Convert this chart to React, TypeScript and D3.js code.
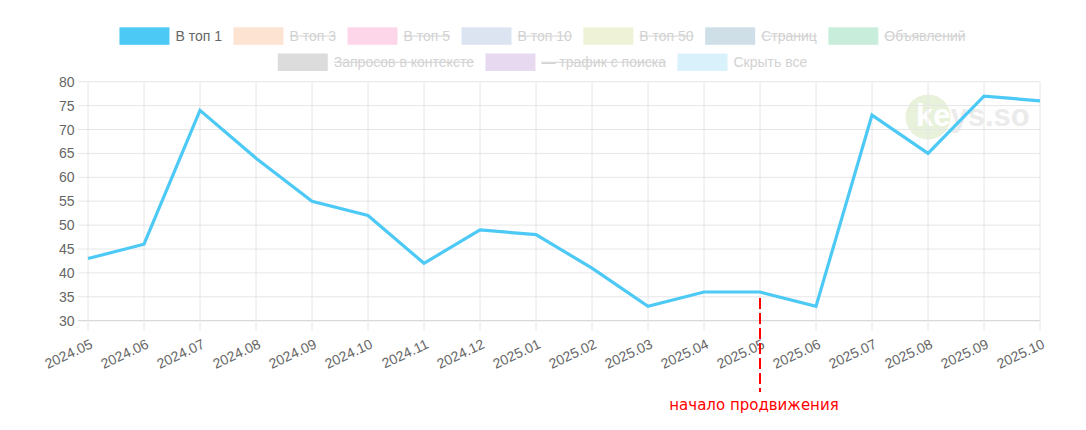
import React, { useEffect, useRef } from "react";
import * as d3 from "d3";

const months = [
  "2024.05", "2024.06", "2024.07", "2024.08", "2024.09", "2024.10",
  "2024.11", "2024.12", "2025.01", "2025.02", "2025.03", "2025.04",
  "2025.05", "2025.06", "2025.07", "2025.08", "2025.09", "2025.10",
];
const top1 = [43, 46, 74, 64, 55, 52, 42, 49, 48, 41, 33, 36, 36, 33, 73, 65, 77, 76];
const yTicks = [30, 35, 40, 45, 50, 55, 60, 65, 70, 75, 80];

const legendRow1 = ["В топ 1", "В топ 3", "В топ 5", "В топ 10", "В топ 50", "Страниц", "Объявлений"];
const legendRow1Colors = ["#4dc9f6", "#fde3d1", "#fdd6ea", "#dde4f1", "#eef3d8", "#cfdfe8", "#c9eddb"];
const legendRow1Hidden = [false, true, true, true, true, true, true];
const legendRow2 = ["Запросов в контексте", "— трафик с поиска", "Скрыть все"];
const legendRow2Colors = ["#dcdcdc", "#e6d9f0", "#d8f1fb"];
const legendRow2Strike = [true, true, false];

const markerMonth = "2025.05";
const markerLabel = "начало продвижения";

const W = 1086;
const H = 430;
const FONT = "'Liberation Sans', Arial, Helvetica, sans-serif";

export default function App() {
  const ref = useRef<SVGSVGElement | null>(null);

  useEffect(() => {
    document.body.style.margin = "0";
    const svg = d3.select(ref.current);
    svg.selectAll("*").remove();

    const x = d3.scalePoint<string>().domain(months).range([88, 1040]);
    const y = d3.scaleLinear().domain([30, 80]).range([320.7, 81.7]);

    const fs = 14;
    const canvas = document.createElement("canvas");
    const ctx = canvas.getContext("2d")!;
    ctx.font = `${fs}px ${FONT}`;

    // legend
    const boxW = 50, boxH = 17.5, pad = 10.5;
    const drawRow = (
      labels: string[], colors: string[], hiddenFlags: boolean[], strike: boolean[], top: number
    ) => {
      const widths = labels.map((l) => boxW + fs / 2 + ctx.measureText(l).width);
      const total = d3.sum(widths) + pad * (labels.length - 1);
      let cx = W / 2 - total / 2;
      labels.forEach((l, i) => {
        const g = svg.append("g");
        g.append("rect")
          .attr("x", cx).attr("y", top).attr("width", boxW).attr("height", boxH)
          .attr("fill", colors[i]);
        const tx = cx + boxW + fs / 2 - 1;
        const tw = ctx.measureText(l).width;
        g.append("text")
          .attr("x", tx).attr("y", top + boxH / 2 + 5)
          .attr("font-family", FONT).attr("font-size", fs)
          .attr("fill", hiddenFlags[i] ? "#d2d2d2" : "#666")
          .text(l);
        if (strike[i]) {
          g.append("line")
            .attr("x1", tx).attr("x2", tx + tw)
            .attr("y1", top + boxH / 2).attr("y2", top + boxH / 2)
            .attr("stroke", "#d2d2d2").attr("stroke-width", 1);
        }
        cx += widths[i] + pad;
      });
    };
    drawRow(legendRow1, legendRow1Colors, legendRow1Hidden, legendRow1Hidden, 27.3);
    drawRow(legendRow2, legendRow2Colors, [true, true, true], legendRow2Strike, 53.5);

    // watermark
    const wm = svg.append("g");
    wm.append("circle").attr("cx", 928).attr("cy", 117).attr("r", 22.5).attr("fill", "#e8f2da");
    wm.append("text")
      .attr("x", 916).attr("y", 126)
      .attr("font-family", FONT).attr("font-weight", "bold")
      .attr("font-size", 31).attr("fill", "#ebebeb")
      .text("keys.so");
    svg.append("clipPath").attr("id", "wmclip")
      .append("circle").attr("cx", 928).attr("cy", 117).attr("r", 22.5);
    wm.append("text")
      .attr("x", 916).attr("y", 126)
      .attr("clip-path", "url(#wmclip)")
      .attr("font-family", FONT).attr("font-weight", "bold")
      .attr("font-size", 31).attr("fill", "#ffffff")
      .text("keys.so");

    // grid
    const grid = svg.append("g");
    yTicks.forEach((t) => {
      grid.append("line")
        .attr("x1", 78).attr("x2", 1040)
        .attr("y1", y(t)).attr("y2", y(t))
        .attr("stroke", t === 30 ? "#cfcfcf" : "#e6e6e6").attr("stroke-width", 1);
    });
    months.forEach((m) => {
      grid.append("line")
        .attr("x1", x(m)!).attr("x2", x(m)!)
        .attr("y1", 81.7).attr("y2", 330.7)
        .attr("stroke", "#e6e6e6").attr("stroke-width", 1);
    });

    // y labels
    yTicks.forEach((t) => {
      svg.append("text")
        .attr("x", 74.5).attr("y", y(t) + 5)
        .attr("text-anchor", "end")
        .attr("font-family", FONT).attr("font-size", fs)
        .attr("fill", "#666")
        .text(String(t));
    });

    // x labels
    months.forEach((m) => {
      svg.append("text")
        .attr("transform", `translate(${x(m)! + 3.5},${343}) rotate(-25)`)
        .attr("text-anchor", "end")
        .attr("dominant-baseline", "central")
        .attr("font-family", FONT).attr("font-size", fs)
        .attr("fill", "#666")
        .text(m);
    });

    // line
    const line = d3.line<number>()
      .x((_, i) => x(months[i])!)
      .y((d) => y(d));
    svg.append("path")
      .datum(top1)
      .attr("d", line)
      .attr("fill", "none")
      .attr("stroke", "#4dc9f6")
      .attr("stroke-width", 3.2)
      .attr("stroke-linejoin", "miter");

    // marker
    const mx = x(markerMonth)!;
    svg.append("line")
      .attr("x1", mx).attr("x2", mx)
      .attr("y1", 298).attr("y2", 392)
      .attr("stroke", "#ff0000").attr("stroke-width", 2)
      .attr("stroke-dasharray", "11,4");
    svg.append("text")
      .attr("x", mx - 6).attr("y", 410)
      .attr("text-anchor", "middle")
      .attr("font-family", "'DejaVu Sans', sans-serif")
      .attr("font-size", 15)
      .attr("fill", "#ff0000")
      .text(markerLabel);
  }, []);

  return <svg ref={ref} width={W} height={H} style={{ display: "block", background: "#fff" }} />;
}
